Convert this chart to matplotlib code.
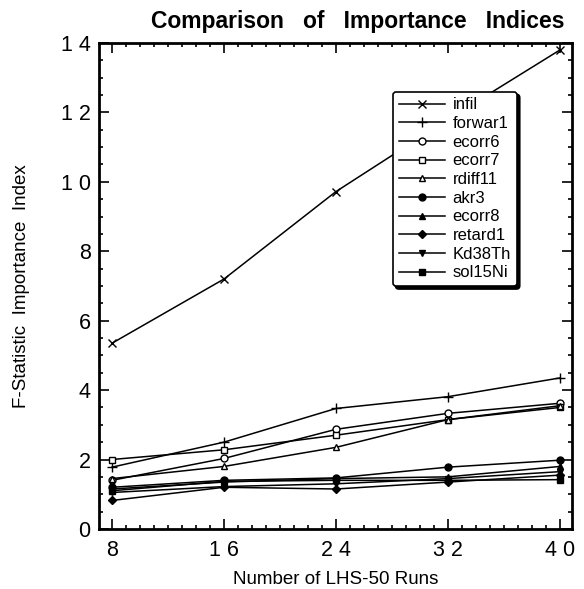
import matplotlib
matplotlib.use("Agg")
import matplotlib.pyplot as plt
from matplotlib.ticker import MultipleLocator

plt.rcParams['font.family'] = ['Liberation Sans', 'DejaVu Sans']

runs = [8, 16, 24, 32, 40]
run_labels = ['8', '1 6', '2 4', '3 2', '4 0']
y_ticks = [0, 2, 4, 6, 8, 10, 12, 14]
y_labels = ['0', '2', '4', '6', '8', '1 0', '1 2', '1 4']

names = ['infil', 'forwar1', 'ecorr6', 'ecorr7', 'rdiff11',
         'akr3', 'ecorr8', 'retard1', 'Kd38Th', 'sol15Ni']

infil = [5.35, 7.2, 9.72, 11.8, 13.8]
forwar1 = [1.78, 2.5, 3.47, 3.81, 4.35]
ecorr6 = [1.4, 2.03, 2.87, 3.33, 3.62]
ecorr7 = [2.0, 2.28, 2.7, 3.15, 3.5]
rdiff11 = [1.45, 1.8, 2.35, 3.15, 3.55]
akr3 = [1.2, 1.4, 1.47, 1.78, 1.98]
ecorr8 = [1.15, 1.35, 1.45, 1.5, 1.8]
retard1 = [0.82, 1.2, 1.15, 1.35, 1.55]
kd38th = [1.05, 1.22, 1.3, 1.45, 1.65]
sol15ni = [1.1, 1.37, 1.4, 1.4, 1.42]

series = [infil, forwar1, ecorr6, ecorr7, rdiff11,
          akr3, ecorr8, retard1, kd38th, sol15ni]
markers = ['x', '+', 'o', 's', '^', 'o', '^', 'D', 'v', 's']
filled = [True, True, False, False, False, True, True, True, True, True]
msizes = [6, 7, 5, 5, 5, 5, 5, 4.5, 5, 5]

fig = plt.figure(figsize=(5.84, 5.89), dpi=100)
ax = fig.add_axes([0.1695, 0.102, 0.81, 0.825])

for vals, name, m, f, ms in zip(series, names, markers, filled, msizes):
    ax.plot(runs, vals, color='k', lw=1.1, marker=m, ms=ms,
            mfc='k' if f else 'white', mec='k', mew=1.0, label=name)

ax.set_xlim(7.07, 40.86)
ax.set_ylim(0, 14)
ax.set_xticks(runs)
ax.set_xticklabels(run_labels)
ax.set_yticks(y_ticks)
ax.set_yticklabels(y_labels)
ax.xaxis.set_minor_locator(MultipleLocator(1))
ax.yaxis.set_minor_locator(MultipleLocator(0.5))
ax.tick_params(which='both', direction='in', top=True, right=True,
               labelsize=15.5, width=1.2)
ax.tick_params(which='major', length=7, pad=6)
ax.tick_params(axis='x', which='major', pad=8)
ax.tick_params(which='minor', length=3)
for s in ax.spines.values():
    s.set_linewidth(2)

ax.set_xlabel('Number of LHS-50 Runs', fontsize=13.5, labelpad=7)
ax.set_ylabel('F-Statistic  Importance  Index', fontsize=13.5, labelpad=22)
fig.text(0.612, 0.963, 'Comparison   of   Importance   Indices',
         ha='center', va='center', fontsize=16.5, fontweight='bold')

leg = ax.legend(loc='upper left', bbox_to_anchor=(0.621, 0.9), fontsize=12,
                handlelength=2.8, handletextpad=0.45, labelspacing=0.22,
                borderpad=0.35, borderaxespad=0, fancybox=True, framealpha=1,
                shadow={'color': 'k', 'alpha': 1})
leg.get_frame().set_edgecolor('k')
leg.get_frame().set_linewidth(1.2)

fig.savefig('out.png', dpi=100)
